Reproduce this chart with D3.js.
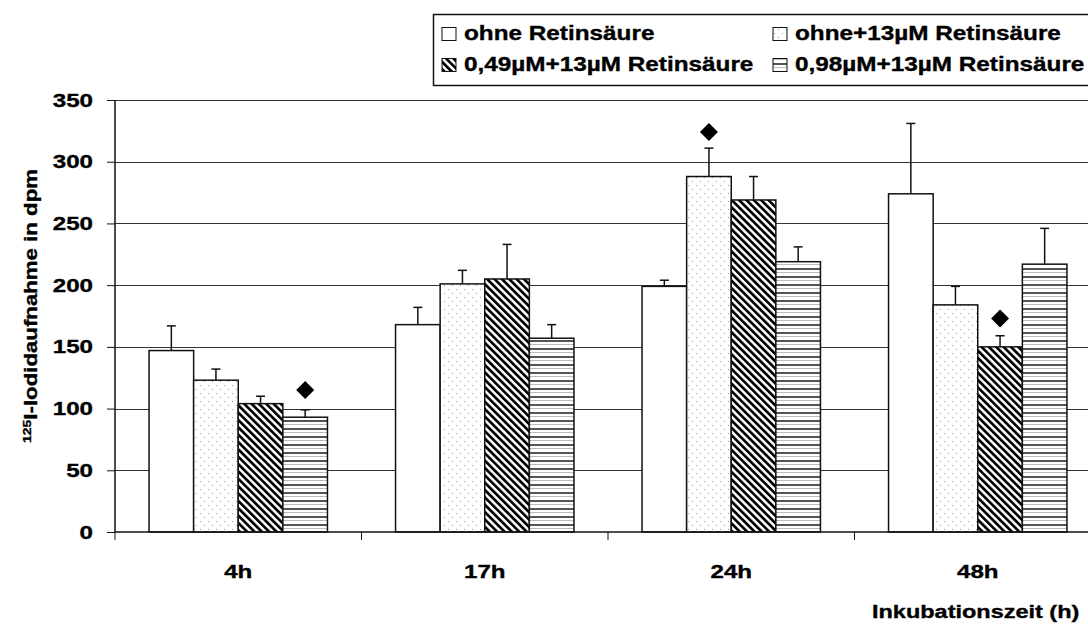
<!DOCTYPE html>
<html>
<head>
<meta charset="utf-8">
<script src="https://cdn.jsdelivr.net/npm/d3@7"></script>
<style>
  body { margin: 0; background: #fff; }
  text { font-family: "Liberation Sans", Arial, sans-serif; font-weight: bold; fill: #000; stroke: #000; stroke-width: 0.35px; }
</style>
</head>
<body>
<div id="chart"></div>
<script>
// data
var categories = ["4h", "17h", "24h", "48h"];
var seriesNames = ["ohne Retinsäure", "ohne+13µM Retinsäure", "0,49µM+13µM Retinsäure", "0,98µM+13µM Retinsäure"];
var ohne = [147, 168, 199, 274];
var ohne13 = [123, 201, 288, 184];
var r049 = [104, 205, 269, 150];
var r098 = [93, 157, 219, 217];
var errOhne = [20, 14, 5, 57];
var errOhne13 = [9, 11, 23, 15];
var errR049 = [6, 28, 19, 9];
var errR098 = [6, 11, 12, 29];
// significance markers (diamonds)
var markCat = ["4h", "24h", "48h"];
var markSeries = [3, 1, 2];
var markVal = [115, 324, 173];
var yTicks = [0, 50, 100, 150, 200, 250, 300, 350];

var svgWidth = 1088;
var svgHeight = 625;
var sx = 1.27; // text is drawn wide in the original

var margin = {top: 100, left: 115};
var width = 986;
var height = 432;

var values = [ohne, ohne13, r049, r098];
var errors = [errOhne, errOhne13, errR049, errR098];

var rows = [];
categories.forEach(function(c, i) {
    seriesNames.forEach(function(s, j) {
        rows.push({cat: c, s: j, value: values[j][i], err: errors[j][i]});
    });
});

var svg = d3.select("#chart")
    .append("svg")
    .attr("width", svgWidth)
    .attr("height", svgHeight);

// patterns
var defs = svg.append("defs");
var pDots = defs.append("pattern").attr("id", "p1").attr("patternUnits", "userSpaceOnUse")
    .attr("width", 8).attr("height", 8);
pDots.append("rect").attr("width", 8).attr("height", 8).attr("fill", "#fff");
pDots.append("rect").attr("x", 1).attr("y", 1).attr("width", 1).attr("height", 1).attr("fill", "#999");
pDots.append("rect").attr("x", 5).attr("y", 5).attr("width", 1).attr("height", 1).attr("fill", "#999");

var pDiag = defs.append("pattern").attr("id", "p2").attr("patternUnits", "userSpaceOnUse")
    .attr("width", 5.2).attr("height", 10).attr("patternTransform", "rotate(-45)");
pDiag.append("rect").attr("width", 5.2).attr("height", 10).attr("fill", "#fff");
pDiag.append("rect").attr("width", 2.7).attr("height", 10).attr("fill", "#000");

var pHor = defs.append("pattern").attr("id", "p3").attr("patternUnits", "userSpaceOnUse")
    .attr("width", 8).attr("height", 8);
pHor.append("rect").attr("width", 8).attr("height", 8).attr("fill", "#fff");
pHor.append("rect").attr("y", 0).attr("width", 8).attr("height", 2).attr("fill", "#555");
pHor.append("rect").attr("y", 4).attr("width", 8).attr("height", 1).attr("fill", "#bbb");

var fills = ["#fff", "url(#p1)", "url(#p2)", "url(#p3)"];

var chart = svg.append("g")
    .attr("transform", "translate(" + margin.left + "," + margin.top + ")");

var x0 = d3.scaleBand().domain(categories).range([0, width]);
var x1 = d3.scaleBand().domain(d3.range(seriesNames.length)).range([0, x0.bandwidth()])
    .paddingInner(0).paddingOuter(0.763);
var y = d3.scaleLinear().domain([0, 350]).range([height, 0]);

// gridlines
chart.append("g").selectAll("line")
    .data(yTicks.filter(function(d) { return d > 0; }))
    .enter().append("line")
    .attr("x1", 0).attr("x2", width)
    .attr("y1", function(d) { return Math.round(y(d)) + 0.5; })
    .attr("y2", function(d) { return Math.round(y(d)) + 0.5; })
    .attr("stroke", "#333").attr("stroke-width", 1);

// bars
chart.append("g").selectAll("rect")
    .data(rows).enter().append("rect")
    .attr("x", function(d) { return x0(d.cat) + x1(d.s); })
    .attr("y", function(d) { return y(d.value); })
    .attr("width", x1.bandwidth())
    .attr("height", function(d) { return height - y(d.value); })
    .attr("fill", function(d) { return fills[d.s]; })
    .attr("stroke", "#111").attr("stroke-width", 1.5);

// error bars
var eb = chart.append("g").attr("stroke", "#111").attr("stroke-width", 1.5);
eb.selectAll("line.v").data(rows).enter().append("line").attr("class", "v")
    .attr("x1", function(d) { return x0(d.cat) + x1(d.s) + x1.bandwidth() / 2; })
    .attr("x2", function(d) { return x0(d.cat) + x1(d.s) + x1.bandwidth() / 2; })
    .attr("y1", function(d) { return y(d.value); })
    .attr("y2", function(d) { return y(d.value + d.err); });
eb.selectAll("line.c").data(rows).enter().append("line").attr("class", "c")
    .attr("x1", function(d) { return x0(d.cat) + x1(d.s) + x1.bandwidth() / 2 - 4.5; })
    .attr("x2", function(d) { return x0(d.cat) + x1(d.s) + x1.bandwidth() / 2 + 4.5; })
    .attr("y1", function(d) { return y(d.value + d.err); })
    .attr("y2", function(d) { return y(d.value + d.err); });

// diamonds
chart.append("g").selectAll("path")
    .data(markCat.map(function(c, i) { return {cat: c, s: markSeries[i], v: markVal[i]}; }))
    .enter().append("path")
    .attr("transform", function(d) {
        return "translate(" + (x0(d.cat) + x1(d.s) + x1.bandwidth() / 2) + "," + y(d.v) + ")";
    })
    .attr("d", "M0,-9L9,0L0,9L-9,0Z")
    .attr("fill", "#000");

// y axis
var leftAxis = d3.axisLeft(y).tickValues(yTicks).tickSize(8).tickFormat(d3.format("d"));
var yAx = chart.append("g").call(leftAxis);
yAx.select(".domain").attr("stroke", "#111").attr("stroke-width", 1.5).attr("d", "M0," + (height + 1) + "V0");
yAx.selectAll(".tick line").attr("stroke", "#111");
yAx.selectAll(".tick text")
    .attr("x", 0)
    .attr("transform", "translate(-22,0) scale(" + sx + ",1)")
    .style("font-size", "19px")
    .style("font-family", "'Liberation Sans', Arial, sans-serif")
    .style("font-weight", "bold");

// x axis: line, ticks at category boundaries, labels at centres
var xAx = chart.append("g").attr("transform", "translate(0," + height + ")");
xAx.append("line").attr("x1", 0).attr("x2", width).attr("stroke", "#111").attr("stroke-width", 1.5);
xAx.selectAll("line.t")
    .data(categories.map(function(c) { return x0(c); }).concat([width]))
    .enter().append("line").attr("class", "t")
    .attr("x1", function(d) { return d; }).attr("x2", function(d) { return d; })
    .attr("y1", 0).attr("y2", 8)
    .attr("stroke", "#111").attr("stroke-width", 1);
xAx.selectAll("text")
    .data(categories).enter().append("text")
    .attr("text-anchor", "middle")
    .attr("transform", function(d) {
        return "translate(" + (x0(d) + x0.bandwidth() / 2) + ",46) scale(" + sx + ",1)";
    })
    .style("font-size", "19px")
    .text(function(d) { return d; });

// axis titles
svg.append("text")
    .attr("transform", "translate(872,618) scale(" + sx + ",1)")
    .style("font-size", "18.5px")
    .text("Inkubationszeit (h)");

var yt = svg.append("text")
    .attr("text-anchor", "middle")
    .attr("transform", "translate(37,306) rotate(-90) scale(" + sx + ",1)")
    .style("font-size", "17.5px");
yt.append("tspan").attr("dy", "-6").style("font-size", "11px").text("125");
yt.append("tspan").attr("dy", "6").text("I-Iodidaufnahme in dpm");

// legend
var legend = svg.append("g");
legend.append("rect")
    .attr("x", 433.5).attr("y", 14.5).attr("width", 700).attr("height", 71)
    .attr("fill", "#fff").attr("stroke", "#111").attr("stroke-width", 1.5);

var legX = [442, 773];
var legY = [40, 71];
var item = legend.selectAll("g.item")
    .data(seriesNames).enter().append("g").attr("class", "item")
    .attr("transform", function(d, i) {
        return "translate(" + legX[i % 2] + "," + legY[Math.floor(i / 2)] + ")";
    });
item.append("rect")
    .attr("x", 0).attr("y", -12.5).attr("width", 14).attr("height", 13)
    .attr("fill", function(d, i) { return fills[i]; })
    .attr("stroke", "#111").attr("stroke-width", 1);
item.append("text")
    .attr("transform", "translate(22,0) scale(1.26,1)")
    .style("font-size", "19.3px")
    .text(function(d) { return d; });
</script>
</body>
</html>
